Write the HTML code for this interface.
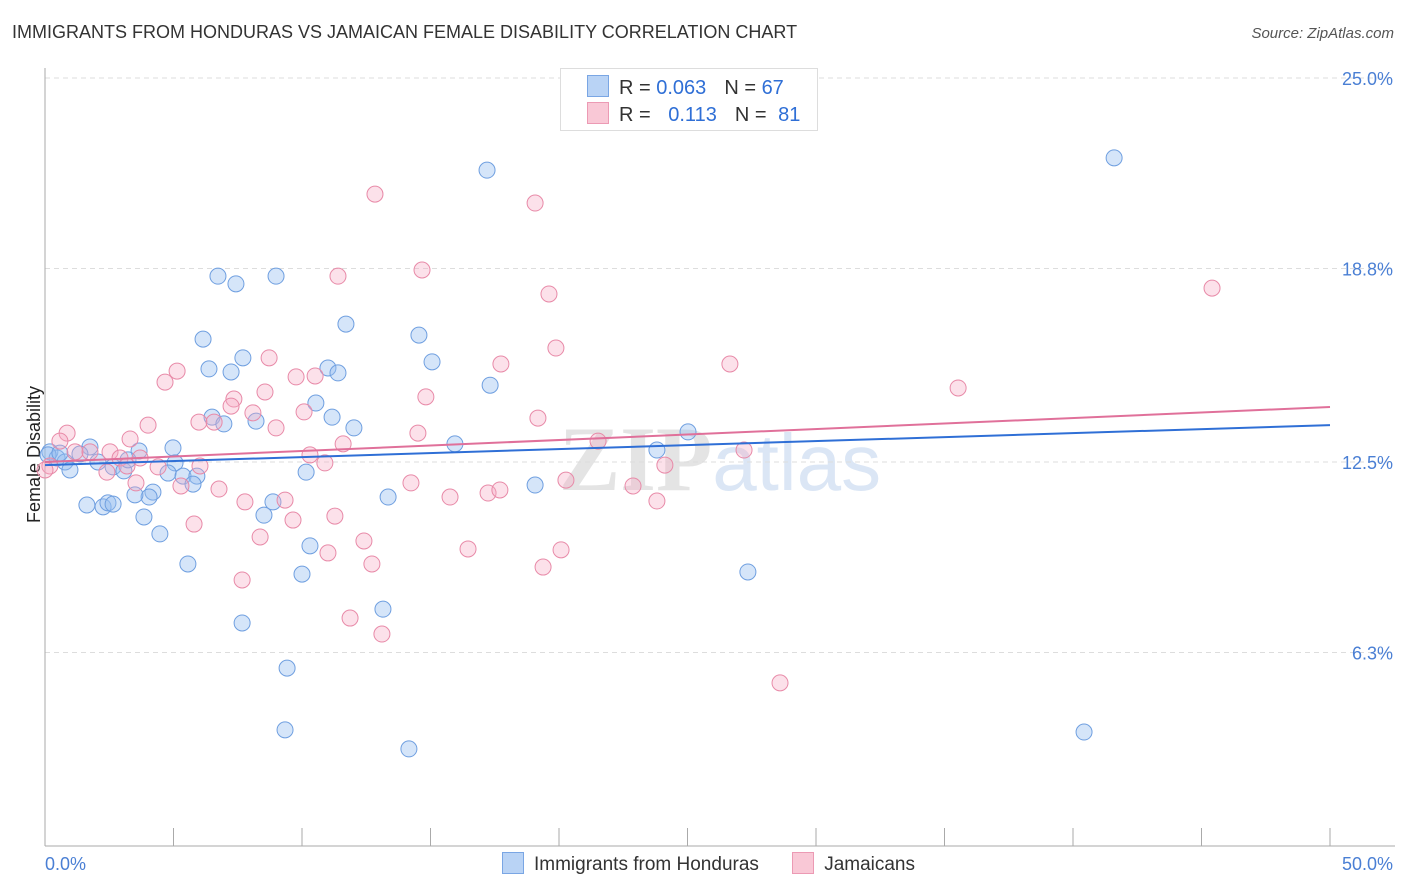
<!DOCTYPE html>
<html><head><meta charset="utf-8">
<style>
body{margin:0;background:#fff;font-family:"Liberation Sans",sans-serif;}
#wrap{position:relative;width:1406px;height:892px;overflow:hidden;}
.t{position:absolute;white-space:nowrap;}
</style></head>
<body>
<div id="wrap">
<div class="t" style="left:12px;top:22px;font-size:18px;color:#333;">IMMIGRANTS FROM HONDURAS VS JAMAICAN FEMALE DISABILITY CORRELATION CHART</div>
<div class="t" style="right:12px;top:25px;font-size:15px;color:#555;font-style:italic;">Source: ZipAtlas.com</div>
<div class="t" style="left:-34px;top:444px;font-size:18px;color:#222;transform:rotate(-90deg);">Female Disability</div>
<svg id="svg" width="1406" height="892" style="position:absolute;left:0;top:0">
<text x="720" y="490" text-anchor="middle" font-size="92" font-family="Liberation Serif,serif" fill="#e4e4e4" font-weight="bold">ZIP<tspan fill="#dbe6f5" font-family="Liberation Sans,sans-serif" font-weight="normal" font-size="80">atlas</tspan></text>
</svg>
<div style="position:absolute;left:560px;top:68px;width:256px;height:61px;border:1px solid #ddd;background:#fff;font-size:20px;">
 <div class="t" style="left:26px;top:6px;">
  <span style="display:inline-block;width:20px;height:20px;background:#b9d3f5;border:1px solid #7aa6e4;vertical-align:-3px;margin-right:10px"></span><span style="color:#333">R = </span><span style="color:#2f6fd6">0.063</span><span style="color:#333;margin-left:18px">N = </span><span style="color:#2f6fd6">67</span></div>
 <div class="t" style="left:26px;top:33px;">
  <span style="display:inline-block;width:20px;height:20px;background:#f9c8d6;border:1px solid #ec9ab4;vertical-align:-3px;margin-right:10px"></span><span style="color:#333">R = </span><span style="color:#2f6fd6;margin-left:12px">0.113</span><span style="color:#333;margin-left:18px">N = </span><span style="color:#2f6fd6;margin-left:6px">81</span></div>
</div>
<div class="t" style="left:502px;top:852px;font-size:19px;color:#333;">
 <span><span style="display:inline-block;width:20px;height:20px;background:#b9d3f5;border:1px solid #7aa6e4;vertical-align:-4px;margin-right:10px"></span>Immigrants from Honduras</span>
 <span style="margin-left:28px"><span style="display:inline-block;width:20px;height:20px;background:#f9c8d6;border:1px solid #ec9ab4;vertical-align:-4px;margin-right:10px"></span>Jamaicans</span>
</div>
</div>
<script>
const blueX=[17.2,41.6,6.73,7.43,8.99,11.71,6.15,14.55,7.7,11.01,11.4,6.38,7.24,15.06,17.32,10.54,6.5,6.96,8.21,11.17,12.02,15.95,25.02,23.81,4.98,3.66,1.75,0.19,0.47,0.78,0.97,1.36,2.06,2.65,3.07,3.23,5.06,4.79,5.37,5.91,5.76,10.16,4.2,4.05,3.5,1.63,2.26,2.45,2.65,3.85,4.47,8.87,8.52,13.35,19.07,10.31,5.56,10.0,27.35,13.15,7.67,9.42,9.34,14.16,40.43,0.12,0.58];
const blueY=[22.0,22.4,18.55,18.3,18.55,16.99,16.5,16.63,15.89,15.56,15.4,15.53,15.43,15.76,15.0,14.42,13.96,13.74,13.83,13.96,13.61,13.09,13.48,12.89,12.96,12.86,12.99,12.83,12.63,12.5,12.24,12.76,12.5,12.34,12.21,12.57,12.47,12.14,12.04,12.04,11.78,12.17,11.52,11.36,11.43,11.1,11.04,11.17,11.13,10.71,10.16,11.2,10.77,11.36,11.75,9.77,9.18,8.85,8.92,7.71,7.26,5.79,3.78,3.16,3.71,12.73,12.79];
const pinkX=[12.84,19.07,14.67,11.4,19.61,45.41,19.88,17.74,26.65,9.77,10.51,8.72,5.14,4.67,8.56,35.53,14.82,7.35,7.24,8.09,10.08,19.18,5.99,6.58,4.01,8.99,0.86,3.31,14.51,21.52,27.2,11.6,0.58,1.17,1.75,2.53,2.92,3.7,4.4,6.03,3.19,2.41,10.31,10.89,24.12,20.27,22.88,14.24,6.77,3.54,5.29,15.76,17.24,17.7,23.81,7.78,9.34,5.8,11.28,9.65,8.37,12.41,11.01,16.46,20.08,12.72,19.38,7.67,11.87,13.11,28.6,0.19,0];
const pinkY=[21.22,20.93,18.75,18.55,17.97,18.16,16.21,15.69,15.69,15.27,15.3,15.89,15.46,15.1,14.78,14.91,14.62,14.55,14.32,14.1,14.13,13.93,13.8,13.8,13.7,13.61,13.44,13.25,13.44,13.18,12.89,13.09,13.18,12.83,12.83,12.83,12.63,12.63,12.34,12.37,12.37,12.17,12.73,12.47,12.4,11.91,11.72,11.82,11.62,11.82,11.72,11.36,11.49,11.59,11.23,11.2,11.26,10.48,10.74,10.61,10.06,9.93,9.54,9.67,9.64,9.18,9.08,8.66,7.42,6.9,5.31,12.37,12.24];
const blueTrend=[12.4,13.7];
const pinkTrend=[12.5,14.29];
const yTicks=[6.3,12.5,18.8,25.0];
const yTickLabels=["6.3%","12.5%","18.8%","25.0%"];
const xTicks=[0,5,10,15,20,25,30,35,40,45,50];

const X0=45,X1=1330,Y0=846;
const sx=v=>X0+(v/50)*(X1-X0);
const sy=v=>Y0-v*30.72;
const svg=document.getElementById('svg');
const NS='http://www.w3.org/2000/svg';
function mk(tag,attrs){const e=document.createElementNS(NS,tag);for(const k in attrs)e.setAttribute(k,attrs[k]);svg.appendChild(e);return e;}

yTicks.forEach((v,i)=>{
 const g=mk('line',{x1:X0,x2:1395,y1:sy(v),y2:sy(v),stroke:'#ddd','stroke-dasharray':'5,4'});
 
 
 const t=mk('text',{x:1393,y:sy(v)+7,'text-anchor':'end','font-size':18,fill:'#4a7fd4','font-family':'Liberation Sans,sans-serif'});
 t.textContent=yTickLabels[i];
 
 
});
const ax=mk('line',{x1:X0,x2:X0,y1:68,y2:846,stroke:'#aaa'});


const bx=mk('line',{x1:X0,x2:1395,y1:846,y2:846,stroke:'#aaa'});


xTicks.forEach(v=>{
 const l=mk('line',{x1:sx(v),x2:sx(v),y1:828,y2:846,stroke:'#aaa'});
 
 
});
const xl0=mk('text',{x:45,y:870,'font-size':18,fill:'#4a7fd4','font-family':'Liberation Sans,sans-serif'});
xl0.textContent=xTicks[0].toFixed(1)+'%';


const xl1=mk('text',{x:1393,y:870,'text-anchor':'end','font-size':18,fill:'#4a7fd4','font-family':'Liberation Sans,sans-serif'});
xl1.textContent=xTicks[xTicks.length-1].toFixed(1)+'%';



blueX.forEach((v,i)=>{
 const c=mk('circle',{cx:sx(v),cy:sy(blueY[i]),r:8,fill:'rgba(150,190,240,0.4)',stroke:'#6f9fe0','stroke-width':1});
 
 
});
pinkX.forEach((v,i)=>{
 const c=mk('circle',{cx:sx(v),cy:sy(pinkY[i]),r:8,fill:'rgba(245,170,195,0.35)',stroke:'#e88aa8','stroke-width':1});
 
 
});
const bl=mk('line',{x1:sx(0),x2:sx(50),y1:sy(blueTrend[0]),y2:sy(blueTrend[1]),stroke:'#2f6fd6','stroke-width':2});


const pl=mk('line',{x1:sx(0),x2:sx(50),y1:sy(pinkTrend[0]),y2:sy(pinkTrend[1]),stroke:'#e0709a','stroke-width':2});


</script>
</body></html>
